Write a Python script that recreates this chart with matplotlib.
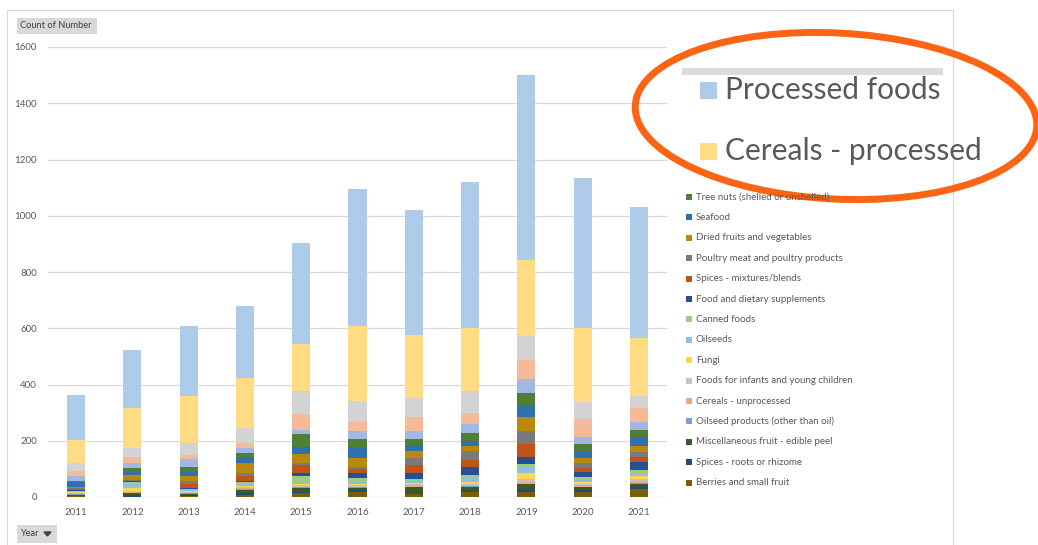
import matplotlib
matplotlib.use("Agg")
import matplotlib.pyplot as plt
from matplotlib.patches import Rectangle, Ellipse, Polygon
import numpy as np

plt.rcParams['font.family'] = ['Lato', 'DejaVu Sans']

years = ['2011', '2012', '2013', '2014', '2015', '2016', '2017', '2018', '2019', '2020', '2021']

# counts per product group, stack order from the bottom up
berries = [2, 1, 3, 6, 14, 17, 12, 18, 17, 18, 28]
spices_roots = [3, 6, 3, 8, 5, 10, 3, 4, 12, 7, 6]
misc_fruit = [3, 7, 5, 12, 12, 5, 20, 12, 16, 10, 12]
oilseed_products = [2, 2, 2, 4, 3, 3, 2, 4, 3, 2, 3]
cereals_unprocessed = [3, 3, 3, 3, 3, 2, 5, 5, 4, 4, 8]
foods_infants = [2, 3, 3, 3, 4, 5, 4, 5, 11, 4, 6]
fungi = [2, 9, 3, 3, 6, 4, 3, 6, 23, 7, 12]
oilseeds = [3, 16, 4, 7, 4, 12, 4, 12, 21, 8, 7]
canned_foods = [3, 8, 4, 8, 24, 11, 12, 12, 9, 10, 14]
dietary_supplements = [3, 2, 3, 4, 9, 15, 21, 28, 27, 20, 30]
spices_mixtures = [2, 1, 15, 17, 31, 14, 28, 26, 45, 12, 17]
poultry = [3, 2, 10, 11, 5, 10, 26, 33, 48, 18, 18]
dried_fruits = [3, 18, 17, 34, 33, 30, 25, 16, 47, 20, 20]
seafood = [18, 12, 15, 23, 26, 41, 20, 19, 44, 21, 28]
tree_nuts = [5, 12, 15, 15, 45, 29, 20, 26, 42, 27, 29]
other_1 = [18, 20, 31, 15, 16, 28, 31, 34, 49, 27, 30]
other_2 = [19, 21, 13, 20, 55, 32, 50, 40, 69, 61, 47]
other_3 = [26, 30, 44, 53, 83, 75, 65, 78, 85, 63, 44]
cereals_processed = [83, 142, 166, 176, 166, 265, 225, 223, 271, 261, 205]
processed_foods = [160, 208, 249, 257, 359, 487, 444, 519, 657, 534, 467]

series = [
    ('Berries and small fruit', berries),
    ('Spices - roots or rhizome', spices_roots),
    ('Miscellaneous fruit - edible peel', misc_fruit),
    ('Oilseed products (other than oil)', oilseed_products),
    ('Cereals - unprocessed', cereals_unprocessed),
    ('Foods for infants and young children', foods_infants),
    ('Fungi', fungi),
    ('Oilseeds', oilseeds),
    ('Canned foods', canned_foods),
    ('Food and dietary supplements', dietary_supplements),
    ('Spices - mixtures/blends', spices_mixtures),
    ('Poultry meat and poultry products', poultry),
    ('Dried fruits and vegetables', dried_fruits),
    ('Seafood', seafood),
    ('Tree nuts (shelled or unshelled)', tree_nuts),
    ('other_1', other_1),
    ('other_2', other_2),
    ('other_3', other_3),
    ('Cereals - processed', cereals_processed),
    ('Processed foods', processed_foods),
]

colors = {
    'Berries and small fruit': '#7a5d0c',
    'Spices - roots or rhizome': '#1f4e79',
    'Miscellaneous fruit - edible peel': '#3a5a2a',
    'Oilseed products (other than oil)': '#7e9fd6',
    'Cereals - unprocessed': '#f0a880',
    'Foods for infants and young children': '#c4c4c4',
    'Fungi': '#ffd650',
    'Oilseeds': '#8fbfe6',
    'Canned foods': '#9ccc85',
    'Food and dietary supplements': '#284f94',
    'Spices - mixtures/blends': '#c05318',
    'Poultry meat and poultry products': '#7a7a7a',
    'Dried fruits and vegetables': '#b88a0a',
    'Seafood': '#2f70b0',
    'Tree nuts (shelled or unshelled)': '#4f7f35',
    'other_1': '#a2b8e2',
    'other_2': '#f5bb98',
    'other_3': '#d3d3d3',
    'Cereals - processed': '#ffdc84',
    'Processed foods': '#aecbea',
}

W, H = 1038, 545
fig = plt.figure(figsize=(W / 100, H / 100), dpi=100)
fig.patch.set_facecolor('white')

ax = fig.add_axes([48 / W, 1 - 497 / H, (667 - 48) / W, 450 / H])
x = np.arange(len(years))
bottom = np.zeros(len(years))
for name, vals in series:
    ax.bar(x, vals, width=0.32, bottom=bottom, color=colors[name], linewidth=0, zorder=3)
    bottom += np.array(vals)

ax.set_xlim(-0.5, len(years) - 0.5)
ax.set_ylim(0, 1600)
ax.set_yticks(range(0, 1601, 200))
ax.set_xticks(x)
ax.set_xticklabels(years)
ax.grid(axis='y', color='#d9d9d9', linewidth=0.9, zorder=0)
for s in ax.spines.values():
    s.set_visible(False)
ax.tick_params(length=0, labelsize=7, labelcolor='#595959')
ax.tick_params(axis='y', pad=8)
ax.tick_params(axis='x', pad=8)

# decorations in pixel coordinates
ov = fig.add_axes([0, 0, 1, 1], zorder=5)
ov.set_xlim(0, W)
ov.set_ylim(H, 0)
ov.axis('off')
ov.patch.set_alpha(0)

ov.add_patch(Rectangle((7, 10), 946, 545, fill=False, edgecolor='#d9d9d9', linewidth=0.8))

# field buttons
ov.add_patch(Rectangle((17, 18), 80, 16, facecolor='#d9d9d9', edgecolor='none'))
ov.text(20, 26, 'Count of Number', fontsize=6.7, color='#404040', va='center')
ov.add_patch(Rectangle((17, 525), 40, 18, facecolor='#d9d9d9', edgecolor='none'))
ov.text(20, 534, 'Year', fontsize=6.7, color='#404040', va='center')
ov.add_patch(Polygon([(44, 532), (51, 532), (47.5, 536)], closed=True, color='#404040'))

# legend
legend_names = [n for n, _ in series[:15]][::-1]
for i, name in enumerate(legend_names):
    y = 197 + i * 20.4
    ov.add_patch(Rectangle((686, y - 3), 6, 6, facecolor=colors[name], edgecolor='none'))
    ov.text(696, y, name, fontsize=7, color='#595959', va='center')

# enlarged legend entries with highlight
ov.add_patch(Rectangle((680, 66), 266, 122, facecolor='white', edgecolor='none'))
ov.add_patch(Rectangle((682, 68), 261, 7, facecolor='#dcdcdc', edgecolor='none'))
ov.add_patch(Rectangle((700, 82), 17, 17, facecolor=colors['Processed foods'], edgecolor='none'))
ov.text(725, 90, 'Processed foods', fontsize=21.5, color='#595959', va='center')
ov.add_patch(Rectangle((700, 143), 17, 17, facecolor=colors['Cereals - processed'], edgecolor='none'))
ov.text(725, 151, 'Cereals - processed', fontsize=21.5, color='#595959', va='center')

ov.add_patch(Ellipse((836, 116), 402, 166, angle=3, fill=False, edgecolor='#fb6414', linewidth=5))

fig.savefig('out.png', dpi=100)
